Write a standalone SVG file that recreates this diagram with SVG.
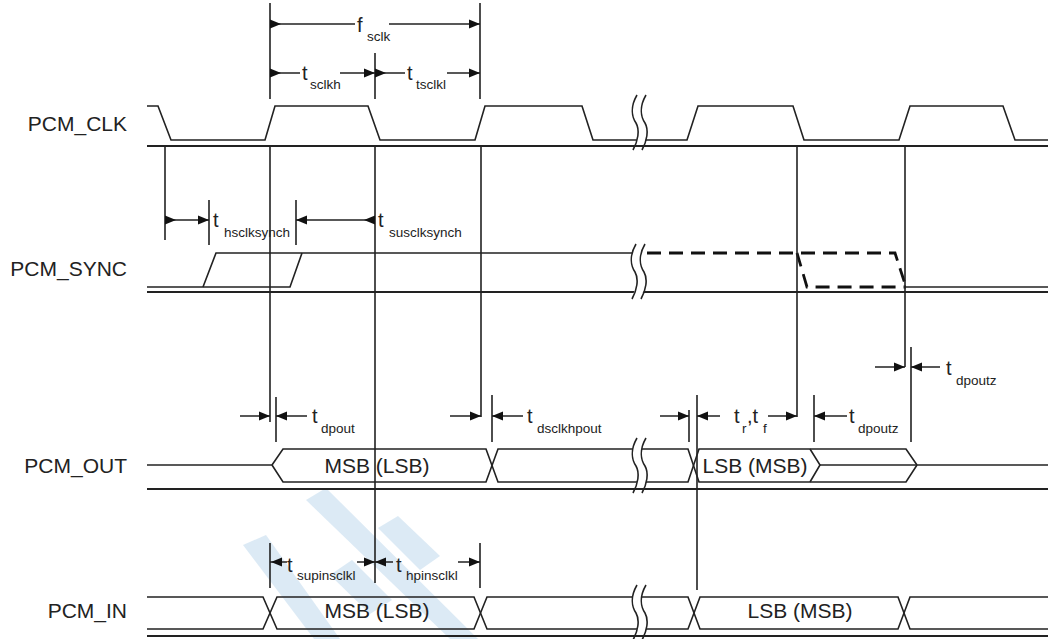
<svg xmlns="http://www.w3.org/2000/svg" xmlns:xlink="http://www.w3.org/1999/xlink" width="1048" height="639" viewBox="0 0 1048 639">
<style>
.sig{fill:none;stroke:#222;stroke-width:1.6;stroke-linejoin:miter}
.base{fill:none;stroke:#222;stroke-width:2}
.vl{fill:none;stroke:#222;stroke-width:1.6}
.dash{fill:none;stroke:#111;stroke-width:2.8;stroke-dasharray:14 8}
.lbl{font-family:"Liberation Sans",Arial,sans-serif;font-size:21px;fill:#222}
.t{font-family:"Liberation Sans",Arial,sans-serif;font-size:20px;fill:#222}
.s{font-family:"Liberation Sans",Arial,sans-serif;font-size:13.5px;fill:#222}
.wm{fill:#c4dcef;opacity:0.6}
</style>
<defs>
<path id="ar" d="M0,0 L-11,-4.5 L-11,4.5 Z" fill="#111"/>
<path id="al" d="M0,0 L11,-4.5 L11,4.5 Z" fill="#111"/>
<g id="brk">
<path d="M4,0 C-3,12 -1,22 3,28 C7,35 5,44 1,50 L10,50 C14,44 16,35 12,28 C8,22 6,12 13,0 Z" fill="#fff" stroke="none"/>
<path d="M4,0 C-3,12 -1,22 3,28 C7,35 5,46 0,55" fill="none" stroke="#222" stroke-width="1.6"/>
<path d="M13,0 C6,12 8,22 12,28 C16,35 14,46 9,55" fill="none" stroke="#222" stroke-width="1.6"/>
</g>
</defs>
<rect width="1048" height="639" fill="#fff"/>

<!-- watermark -->
<g id="watermark">
<polygon class="wm" points="243,545 266,535 340,639 314,639"/>
<polygon class="wm" points="306,500 326,488 478,639 450,639"/>
<polygon class="wm" points="330,575 352,560 392,600 370,614"/>
<polygon class="wm" points="378,528 398,516 440,556 420,570"/>
</g>

<!-- labels -->
<g id="label-clk"><text class="lbl" x="127" y="131" text-anchor="end">PCM_CLK</text></g>
<g id="label-sync"><text class="lbl" x="127" y="276" text-anchor="end">PCM_SYNC</text></g>
<g id="label-out"><text class="lbl" x="127" y="473" text-anchor="end">PCM_OUT</text></g>
<g id="label-in"><text class="lbl" x="127" y="618" text-anchor="end">PCM_IN</text></g>

<!-- waveforms -->
<g id="pcm-clk">
<path class="sig" d="M147,106 L158,106 L171,140 L265,140 L275,106 L368,106 L380,140 L475,140 L485,106 L582,106 L593,140 L687,140 L698,106 L793,106 L804,140 L899,140 L910,106 L1003,106 L1015,140 L1048,140"/>
<path class="base" d="M147,146 H1048"/>
<use xlink:href="#brk" href="#brk" x="633" y="95"/>
</g>

<g id="pcm-sync">
<path class="sig" d="M147,287 L290,287 L302,253"/>
<path class="sig" d="M203,287 L216,253 L640,253"/>
<path class="dash" d="M647,253 L895,253 L906,287"/>
<path class="dash" d="M797,253 L807,287 L906,287"/>
<path class="sig" d="M906,287 H1048"/>
<path class="base" d="M147,292 H1048"/>
<use xlink:href="#brk" href="#brk" x="632" y="244"/>
</g>

<g id="pcm-out">
<path class="sig" d="M147,465 L272,465"/>
<path class="sig" d="M272,465 L283,449 L486,449 L498,482 L688,482 L699,449 L906,449 L917,465"/>
<path class="sig" d="M272,465 L283,482 L486,482 L498,449 L688,449 L699,482 L906,482 L917,465"/>
<path class="sig" d="M810,449 L820,465 L810,482"/>
<path class="sig" d="M820,465 H1048"/>
<path class="base" d="M147,489 H1048"/>
<use xlink:href="#brk" href="#brk" x="633" y="438"/>
<text class="lbl" x="377" y="473" text-anchor="middle">MSB (LSB)</text>
<text class="lbl" x="755" y="473" text-anchor="middle">LSB (MSB)</text>
</g>

<g id="pcm-in">
<path class="sig" d="M147,597 L263,597 L277,629 L474,629 L487,597 L688,597 L700,629 L898,629 L910,597 L1048,597"/>
<path class="sig" d="M147,629 L263,629 L277,597 L474,597 L487,629 L688,629 L700,597 L898,597 L910,629 L1048,629"/>
<path class="base" d="M147,636 H1048"/>
<use xlink:href="#brk" href="#brk" x="633" y="585"/>
<text class="lbl" x="377" y="618" text-anchor="middle">MSB (LSB)</text>
<text class="lbl" x="800" y="618" text-anchor="middle">LSB (MSB)</text>
</g>

<!-- connectors: timing reference lines and dimension arrows -->
<g id="connectors">
<path class="vl" d="M270,3 V99 M375,53 V99 M480,3 V99"/>
<path class="vl" d="M165,147 V240 M209,200 V245 M296,200 V245"/>
<path class="vl" d="M270,147 V422 M276,397 V442 M375,147 V583 M481,147 V417 M492,395 V442"/>
<path class="vl" d="M689,410 V442 M697,395 V590 M797,147 V417 M814,395 V442 M905,147 V367 M911,347 V442"/>
<path class="vl" d="M270,543 V588 M480,543 V588"/>

<!-- fsclk -->
<path class="vl" d="M270,24 H355 M389,24 H480"/>
<use xlink:href="#ar" href="#ar" x="281" y="24"/>
<use xlink:href="#ar" href="#ar" x="480" y="24"/>
<!-- tsclkh / tsclkl -->
<path class="vl" d="M270,73 H300 M340,73 H375 M375,73 H405 M447,73 H480"/>
<use xlink:href="#ar" href="#ar" x="281" y="73"/>
<use xlink:href="#ar" href="#ar" x="375" y="73"/>
<use xlink:href="#ar" href="#ar" x="386" y="73"/>
<use xlink:href="#ar" href="#ar" x="480" y="73"/>
<!-- hsclksynch / susclksynch -->
<path class="vl" d="M165,220 H209 M296,220 H375"/>
<use xlink:href="#ar" href="#ar" x="176" y="220"/>
<use xlink:href="#ar" href="#ar" x="209" y="220"/>
<use xlink:href="#al" href="#al" x="296" y="220"/>
<use xlink:href="#al" href="#al" x="364" y="220"/>
<!-- dpout -->
<path class="vl" d="M240,416 H270 M276,416 H307"/>
<use xlink:href="#ar" href="#ar" x="270" y="416"/>
<use xlink:href="#al" href="#al" x="276" y="416"/>
<!-- dsclkhpout -->
<path class="vl" d="M450,416 H481 M492,416 H523"/>
<use xlink:href="#ar" href="#ar" x="481" y="416"/>
<use xlink:href="#al" href="#al" x="492" y="416"/>
<!-- tr, tf -->
<path class="vl" d="M660,416 H689 M697,416 H720 M768,416 H797"/>
<use xlink:href="#ar" href="#ar" x="689" y="416"/>
<use xlink:href="#al" href="#al" x="697" y="416"/>
<use xlink:href="#ar" href="#ar" x="797" y="416"/>
<!-- dpoutz lower -->
<path class="vl" d="M814,416 H847"/>
<use xlink:href="#al" href="#al" x="814" y="416"/>
<!-- dpoutz upper -->
<path class="vl" d="M875,367 H905 M911,367 H940"/>
<use xlink:href="#ar" href="#ar" x="905" y="367"/>
<use xlink:href="#al" href="#al" x="911" y="367"/>
<!-- supinsclkl / hpinsclkl -->
<path class="vl" d="M270,562 H287 M357,562 H393 M458,562 H480"/>
<use xlink:href="#al" href="#al" x="271" y="562"/>
<use xlink:href="#ar" href="#ar" x="375" y="562"/>
<use xlink:href="#al" href="#al" x="375" y="562"/>
<use xlink:href="#ar" href="#ar" x="480" y="562"/>
</g>

<!-- timing labels -->
<g id="timing-labels">
<text class="t" x="357" y="32">f</text><text class="s" x="367" y="41">sclk</text>
<text class="t" x="302" y="80">t</text><text class="s" x="310" y="89">sclkh</text>
<text class="t" x="407" y="80">t</text><text class="s" x="416" y="89">tsclkl</text>
<text class="t" x="213" y="227">t</text><text class="s" x="224" y="237">hsclksynch</text>
<text class="t" x="378" y="227">t</text><text class="s" x="389" y="237">susclksynch</text>
<text class="t" x="312" y="423">t</text><text class="s" x="321" y="433">dpout</text>
<text class="t" x="527" y="423">t</text><text class="s" x="537" y="433">dsclkhpout</text>
<text class="t" x="734" y="423">t</text><text class="s" x="742" y="433">r</text><text class="t" x="747" y="423">,t</text><text class="s" x="763" y="433">f</text>
<text class="t" x="849" y="423">t</text><text class="s" x="858" y="433">dpoutz</text>
<text class="t" x="946" y="375">t</text><text class="s" x="956" y="385">dpoutz</text>
<text class="t" x="287" y="572">t</text><text class="s" x="297" y="580">supinsclkl</text>
<text class="t" x="396" y="572">t</text><text class="s" x="406" y="580">hpinsclkl</text>
</g>
</svg>
